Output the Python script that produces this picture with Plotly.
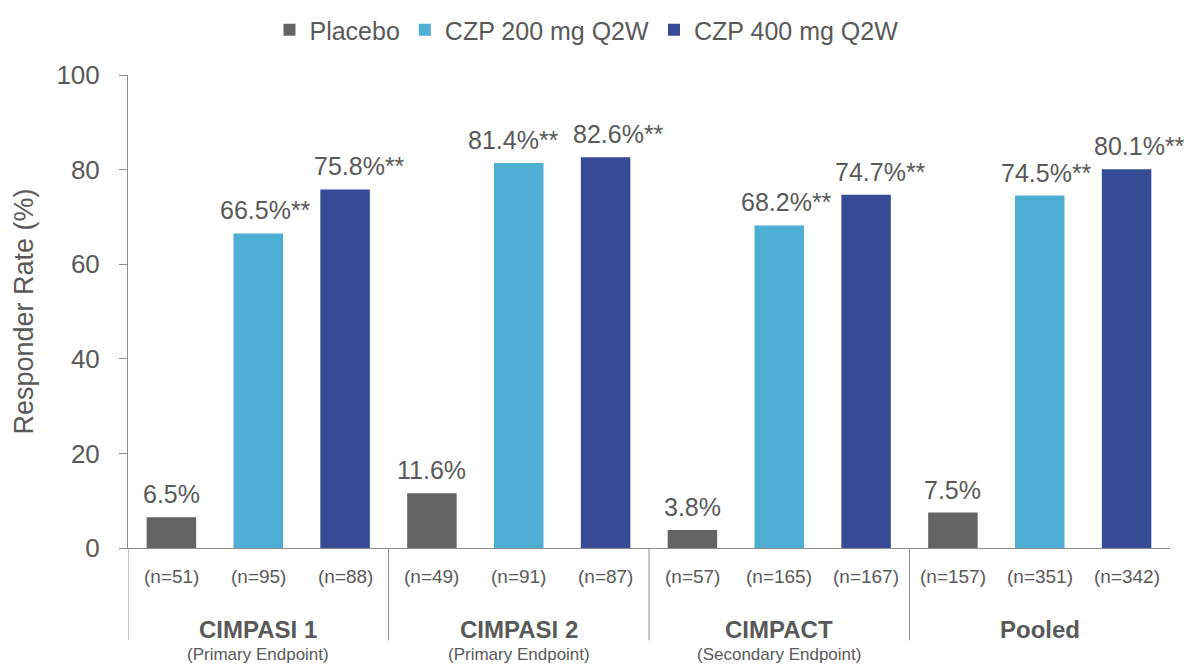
import plotly.graph_objects as go

# Study groups and per-arm results
groups = ["CIMPASI 1", "CIMPASI 2", "CIMPACT", "Pooled"]
subtitles = ["(Primary Endpoint)", "(Primary Endpoint)", "(Secondary Endpoint)", ""]
series_names = ["Placebo", "CZP 200 mg Q2W", "CZP 400 mg Q2W"]

placebo = [6.5, 11.6, 3.8, 7.5]
czp200 = [66.5, 81.4, 68.2, 74.5]
czp400 = [75.8, 82.6, 74.7, 80.1]

# Significance markers appended to the value labels
placebo_sig = ["", "", "", ""]
czp200_sig = ["**", "**", "**", "**"]
czp400_sig = ["**", "**", "**", "**"]

# Sample sizes per arm
n_placebo = [51, 49, 57, 157]
n_czp200 = [95, 91, 165, 351]
n_czp400 = [88, 87, 167, 342]

y_ticks = [0, 20, 40, 60, 80, 100]

colors = ["#646464", "#4FAED3", "#354B95"]
text_color = "#595959"
axis_color = "#8c8c8c"
font_family = "Liberation Sans, Arial, sans-serif"

# Horizontal nudges (px) of the value labels so neighbouring labels don't collide
label_nudge = [
    [0, 0, 0, 0],
    [7, -5, 7, 7],
    [14, 13, 14, 13],
]

values = [placebo, czp200, czp400]
sigs = [placebo_sig, czp200_sig, czp400_sig]
ns = [n_placebo, n_czp200, n_czp400]

x_pos = list(range(len(groups)))
offsets = [-1 / 3, 0, 1 / 3]          # centre of each arm within its group

fig = go.Figure()
for name, vals, col in zip(series_names, values, colors):
    fig.add_trace(go.Bar(
        name=name,
        x=x_pos,
        y=vals,
        marker=dict(color=col, line=dict(width=0)),
        hoverinfo="skip",
    ))

annotations = []
# Value labels above each bar
for arm, off in enumerate(offsets):
    for g in x_pos:
        v = values[arm][g]
        s = sigs[arm][g]
        annotations.append(dict(
            x=g + off, y=v, xref="x", yref="y",
            text=f"{v:.1f}%{s}", showarrow=False,
            font=dict(size=25, color=text_color, family=font_family),
            xanchor="center", yanchor="bottom",
            xshift=label_nudge[arm][g], yshift=7,
        ))
# Sample sizes under each bar
for arm, off in enumerate(offsets):
    for g in x_pos:
        annotations.append(dict(
            x=g + off, y=-0.061, xref="x", yref="paper",
            text=f"(n={ns[arm][g]})", showarrow=False,
            font=dict(size=19, color=text_color, family=font_family),
            xanchor="center", yanchor="middle",
        ))
# Group names and endpoint notes
for g in x_pos:
    annotations.append(dict(
        x=g, y=-0.172, xref="x", yref="paper",
        text=f"<b>{groups[g]}</b>", showarrow=False,
        font=dict(size=24, color=text_color, family=font_family),
        xanchor="center", yanchor="middle",
    ))
    if subtitles[g]:
        annotations.append(dict(
            x=g, y=-0.2245, xref="x", yref="paper",
            text=subtitles[g], showarrow=False,
            font=dict(size=17, color=text_color, family=font_family),
            xanchor="center", yanchor="middle",
        ))

# Vertical dividers between study groups below the axis
shapes = []
for b in [-0.5, 0.5, 1.5, 2.5]:
    shapes.append(dict(
        type="line", xref="x", yref="paper",
        x0=b, x1=b, y0=0, y1=-0.195,
        line=dict(color=axis_color, width=1),
    ))

fig.update_layout(
    width=1188, height=664,
    margin=dict(l=128, r=18, t=75, b=116, autoexpand=False),
    paper_bgcolor="white", plot_bgcolor="white",
    barmode="group", bargap=0.0, bargroupgap=0.43,
    font=dict(family=font_family, color=text_color),
    showlegend=True,
    legend=dict(
        orientation="h", xref="paper", yref="paper",
        x=0.44, xanchor="center", y=1.095, yanchor="middle",
        font=dict(size=25, color=text_color, family=font_family),
        itemclick=False, itemdoubleclick=False,
    ),
    xaxis=dict(
        range=[-0.5, 3.5], showticklabels=False, ticks="",
        showline=True, linecolor=axis_color, linewidth=1,
        showgrid=False, zeroline=False, fixedrange=True,
    ),
    yaxis=dict(
        range=[0, 100], tickvals=y_ticks, ticks="outside", ticklen=8,
        tickcolor=axis_color, showline=True, linecolor=axis_color, linewidth=1,
        showgrid=False, zeroline=False, ticklabelstandoff=14,
        tickfont=dict(size=26, color=text_color, family=font_family),
        title=dict(text="Responder Rate (%)", standoff=14,
                   font=dict(size=27, color=text_color, family=font_family)),
        fixedrange=True,
    ),
    annotations=annotations,
    shapes=shapes,
)

fig.write_html("out.html")
